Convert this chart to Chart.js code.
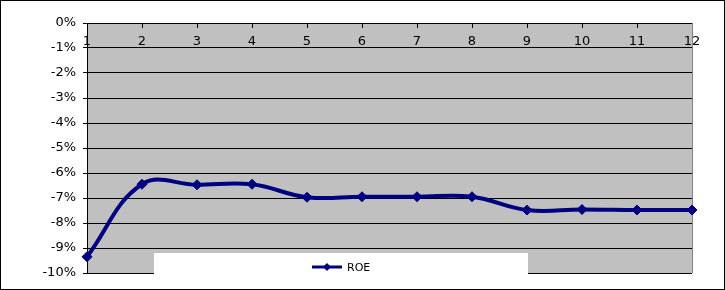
<!DOCTYPE html>
<html>
<head>
<meta charset="utf-8">
<script src="https://cdn.jsdelivr.net/npm/chart.js@4"></script>
<style>
  html, body { margin: 0; padding: 0; background: #fff; }
  #frame { width: 723px; height: 288px; border: 1px solid #000; }
  canvas { display: block; }
</style>
</head>
<body>
<div id="frame"><canvas id="roeChart" width="723" height="288"></canvas></div>
<script>
// data
const periods = ['1', '2', '3', '4', '5', '6', '7', '8', '9', '10', '11', '12'];
const roeValues = [-9.35, -6.45, -6.47, -6.45, -6.97, -6.95, -6.95, -6.95, -7.48, -7.46, -7.48, -7.48];
const seriesName = 'ROE';

const NAVY = '#000080';

// gray plot area + gray right edge
const plotBackground = {
    id: 'plotBackground',
    beforeDraw(chart) {
        const { ctx, chartArea: a } = chart;
        ctx.save();
        ctx.fillStyle = '#c0c0c0';
        ctx.fillRect(a.left, a.top, a.right - a.left, a.bottom - a.top);
        ctx.restore();
    },
    beforeDatasetsDraw(chart) {
        const { ctx, chartArea: a } = chart;
        ctx.save();
        ctx.strokeStyle = '#808080';
        ctx.lineWidth = 1;
        ctx.beginPath();
        ctx.moveTo(Math.round(a.right) + 0.5, a.top);
        ctx.lineTo(Math.round(a.right) + 0.5, a.bottom);
        ctx.stroke();
        ctx.restore();
    }
};

// white legend box that sits over the bottom of the plot, like the original
const boxLegend = {
    id: 'boxLegend',
    afterDraw(chart) {
        const { ctx } = chart;
        const ds = chart.data.datasets[0];
        ctx.save();
        ctx.fillStyle = '#fff';
        ctx.fillRect(153, 252, 374, 36);

        const y = 266;
        ctx.strokeStyle = ds.borderColor;
        ctx.lineWidth = 3;
        ctx.beginPath();
        ctx.moveTo(311, y);
        ctx.lineTo(341, y);
        ctx.stroke();

        // diamond marker
        ctx.fillStyle = ds.pointBackgroundColor;
        ctx.beginPath();
        ctx.moveTo(326, y - 4);
        ctx.lineTo(330, y);
        ctx.lineTo(326, y + 4);
        ctx.lineTo(322, y);
        ctx.closePath();
        ctx.fill();

        ctx.fillStyle = '#000';
        ctx.font = '11px "DejaVu Sans"';
        ctx.textBaseline = 'middle';
        ctx.textAlign = 'left';
        ctx.fillText(ds.label, 346, y + 1);
        ctx.restore();
    }
};

Chart.defaults.font.family = '"DejaVu Sans", sans-serif';
Chart.defaults.font.size = 13;
Chart.defaults.color = '#000';

new Chart(document.getElementById('roeChart'), {
    type: 'line',
    data: {
        labels: periods,
        datasets: [{
            label: seriesName,
            data: roeValues,
            borderColor: NAVY,
            borderWidth: 4,
            tension: 0.4,
            pointStyle: 'rectRot',
            pointRadius: 5,
            pointBackgroundColor: NAVY,
            pointBorderColor: NAVY,
            pointBorderWidth: 1,
            clip: false
        }]
    },
    options: {
        responsive: false,
        animation: false,
        devicePixelRatio: 1,
        layout: { padding: { left: 0, top: 0, right: 32, bottom: 16 } },
        plugins: {
            legend: { display: false },
            tooltip: { enabled: false }
        },
        scales: {
            x: {
                type: 'category',
                position: 'top',
                offset: false,
                afterFit(scale) { scale.height = 22; },
                grid: {
                    drawOnChartArea: false,
                    tickLength: -5, // ticks point into the plot
                    color: '#000'
                },
                border: { display: true, color: '#000' },
                ticks: {
                    mirror: true, // labels sit under the top edge, not clipped
                    padding: 11,
                    maxRotation: 0,
                    autoSkip: false,
                    color: '#000'
                }
            },
            y: {
                min: -10,
                max: 0,
                afterFit(scale) { scale.width = 86; },
                grid: { color: '#000', tickLength: 4 },
                border: { display: true, color: '#000' },
                ticks: {
                    stepSize: 1,
                    padding: 7,
                    color: '#000',
                    callback: v => v + '%'
                }
            }
        }
    },
    plugins: [plotBackground, boxLegend]
});
</script>
</body>
</html>
